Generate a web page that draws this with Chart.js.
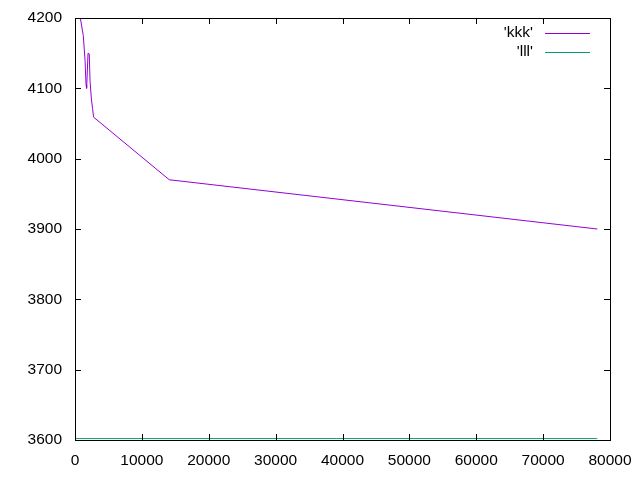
<!DOCTYPE html>
<html>
<head>
<meta charset="utf-8">
<script src="https://cdn.jsdelivr.net/npm/chart.js@4/dist/chart.umd.min.js"></script>
<style>
  html, body { margin: 0; padding: 0; background: #fff; }
  #wrap { width: 640px; height: 480px; }
</style>
</head>
<body>
<div id="wrap"><canvas id="plot" width="640" height="480"></canvas></div>
<script>
// data
const kkkX = [800, 1240, 1500, 1650, 1740, 1950, 2130, 2250, 2450, 2630, 2780, 14100, 78100];
const kkkY = [4200, 4175, 4140, 4105, 4100, 4150, 4149, 4110, 4085, 4071, 4059, 3970, 3900];
const lllX = [0, 78100];
const lllY = [3602, 3602];
const xTicks = [0, 10000, 20000, 30000, 40000, 50000, 60000, 70000, 80000];
const yTicks = [3600, 3700, 3800, 3900, 4000, 4100, 4200];
const labels = ["'kkk'", "'lll'"];
const colors = ['#9400d3', '#009e73'];

const toPts = (xs, ys) => xs.map((x, i) => ({ x: x, y: ys[i] }));
const fontFam = '"Liberation Sans", Arial, sans-serif';
const fontSize = 15.5;

// no extra room for label overhang, the plot box is fixed like gnuplot's
const noPad = s => { s.paddingTop = 0; s.paddingBottom = 0; s.paddingLeft = 0; s.paddingRight = 0; };

// gnuplot style frame: box border with inward ticks on all four sides
const frame = {
  id: 'frame',
  afterDraw(chart) {
    const c = chart.ctx, a = chart.chartArea;
    const xs = chart.scales.x, ys = chart.scales.y;
    c.save();
    c.strokeStyle = '#000';
    c.lineWidth = 1;
    c.strokeRect(a.left + 0.5, a.top + 0.5, a.right - a.left, a.bottom - a.top);
    c.beginPath();
    xTicks.forEach(v => {
      const p = Math.round(xs.getPixelForValue(v)) + 0.5;
      c.moveTo(p, a.bottom); c.lineTo(p, a.bottom - 6);
      c.moveTo(p, a.top); c.lineTo(p, a.top + 6);
    });
    yTicks.forEach(v => {
      const p = Math.round(ys.getPixelForValue(v)) + 0.5;
      c.moveTo(a.left, p); c.lineTo(a.left + 6, p);
      c.moveTo(a.right, p); c.lineTo(a.right - 6, p);
    });
    c.stroke();

    // key, top right
    c.font = fontSize + 'px ' + fontFam;
    c.textAlign = 'right';
    c.textBaseline = 'middle';
    labels.forEach((t, i) => {
      c.fillStyle = '#000';
      c.fillText(t, 533, 33 + i * 18.5);
      const ly = 33.5 + i * 19;
      c.beginPath();
      c.strokeStyle = colors[i];
      c.moveTo(545, ly);
      c.lineTo(590, ly);
      c.stroke();
    });
    c.restore();
  }
};

new Chart(document.getElementById('plot'), {
  type: 'line',
  data: {
    datasets: [
      { label: labels[0], data: toPts(kkkX, kkkY), borderColor: colors[0], borderWidth: 1, pointRadius: 0, tension: 0 },
      { label: labels[1], data: toPts(lllX, lllY), borderColor: colors[1], borderWidth: 1, pointRadius: 0, tension: 0 }
    ]
  },
  options: {
    responsive: false,
    animation: false,
    events: [],
    layout: { padding: { top: 18, right: 30, left: 0, bottom: 0 } },
    plugins: { legend: { display: false }, tooltip: { enabled: false } },
    scales: {
      x: {
        type: 'linear', min: 0, max: 80000,
        afterBuildTicks: s => { s.ticks = xTicks.map(v => ({ value: v })); },
        afterFit: s => { s.height = 40; noPad(s); },
        grid: { display: false, drawTicks: false },
        border: { display: false },
        ticks: { color: '#000', padding: 11, maxRotation: 0, autoSkip: false, callback: v => String(v), font: { family: fontFam, size: fontSize } }
      },
      y: {
        type: 'linear', min: 3600, max: 4200,
        afterBuildTicks: s => { s.ticks = yTicks.map(v => ({ value: v })); },
        afterFit: s => { s.width = 75; noPad(s); },
        grid: { display: false, drawTicks: false },
        border: { display: false },
        ticks: { color: '#000', padding: 13, callback: v => String(v), font: { family: fontFam, size: fontSize } }
      }
    }
  },
  plugins: [frame]
});
</script>
</body>
</html>
